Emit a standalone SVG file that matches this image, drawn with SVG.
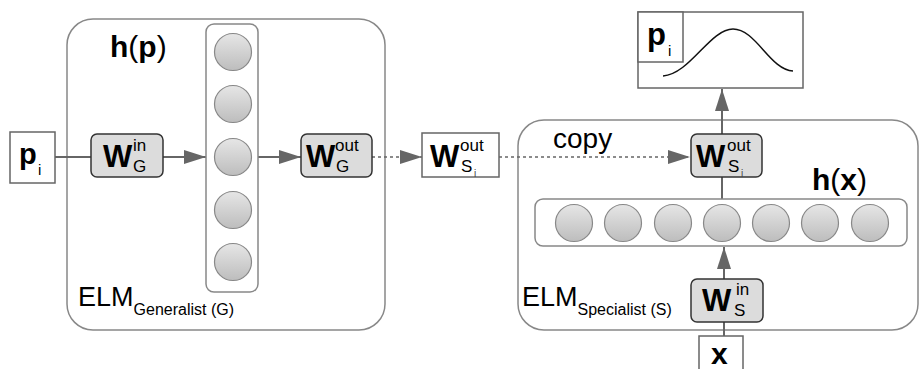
<svg xmlns="http://www.w3.org/2000/svg" width="919" height="369" viewBox="0 0 919 369">
<style>
text{font-family:"Liberation Sans",Arial,sans-serif;fill:#000}
.b{font-weight:bold}
.big{fill:#fff;stroke:#888;stroke-width:1.5}
.wbox{fill:#dcdcdc;stroke:#333;stroke-width:1.5}
.pbox{fill:#fff;stroke:#666;stroke-width:1.5}
.neu{fill:url(#g);stroke:#888;stroke-width:1.2}
.ln{stroke:#666;stroke-width:2;fill:none}
.dash{stroke:#666;stroke-width:1.5;fill:none;stroke-dasharray:3 3}
.W{font-size:31px;font-weight:bold}
.sup{font-size:17px}
.sub{font-size:17px}
.ss{font-size:10px;fill:#444}
</style>
<defs>
<linearGradient id="g" x1="0" y1="0" x2="0" y2="1">
<stop offset="0" stop-color="#e6e6e6"/>
<stop offset="1" stop-color="#bdbdbd"/>
</linearGradient>
<marker id="ah" markerUnits="userSpaceOnUse" markerWidth="22" markerHeight="14" refX="22" refY="7" orient="auto">
<path d="M0,0 L22,7 L0,14 z" fill="#666"/>
</marker>
</defs>

<g id="generalist">
<rect class="big" x="67" y="19" width="318" height="311" rx="26"/>
<text x="78" y="306" font-size="27">ELM<tspan font-size="16" y="315">Generalist (G)</tspan></text>
<text x="110" y="57" font-size="30"><tspan class="b">h</tspan>(<tspan class="b">p</tspan>)</text>
</g>

<g id="specialist">
<rect class="big" x="518" y="120" width="400" height="210" rx="26"/>
<text x="522" y="306" font-size="27">ELM<tspan font-size="16" y="315">Specialist (S)</tspan></text>
<text x="812" y="190" font-size="30"><tspan class="b">h</tspan>(<tspan class="b">x</tspan>)</text>
</g>

<g id="connectors">
<line class="ln" x1="55" y1="157" x2="91" y2="157"/>
<line class="ln" x1="163" y1="157" x2="206" y2="157" marker-end="url(#ah)"/>
<line class="ln" x1="258" y1="157" x2="301" y2="157" marker-end="url(#ah)"/>
<line class="dash" x1="372" y1="157" x2="422" y2="157" marker-end="url(#ah)"/>
<line class="dash" x1="499" y1="157" x2="690" y2="157" marker-end="url(#ah)"/>
<line class="ln" x1="722" y1="134" x2="722" y2="89" marker-end="url(#ah)"/>
<line class="ln" x1="722" y1="177" x2="722" y2="199"/>
<line class="ln" x1="724" y1="279" x2="724" y2="247" marker-end="url(#ah)"/>
<line class="ln" x1="724" y1="322" x2="724" y2="336"/>
</g>

<g id="p_in">
<rect class="pbox" x="10" y="132" width="45" height="51"/>
<text x="19" y="164" font-size="29" class="b">p</text>
<text x="38" y="175" font-size="15">i</text>
</g>

<g id="W_G_in">
<rect class="wbox" x="91" y="134" width="72" height="43" rx="6"/>
<text x="103" y="167" class="W">W</text>
<text x="133" y="151" class="sup">in</text>
<text x="133" y="172" class="sub">G</text>
</g>

<g id="hidden_p">
<rect class="big" x="206" y="24" width="52" height="268" rx="8"/>
<circle class="neu" cx="233" cy="52" r="18.5"/>
<circle class="neu" cx="233" cy="104" r="18.5"/>
<circle class="neu" cx="233" cy="157" r="18.5"/>
<circle class="neu" cx="233" cy="210" r="18.5"/>
<circle class="neu" cx="233" cy="262" r="18.5"/>
</g>

<g id="W_G_out">
<rect class="wbox" x="301" y="134" width="71" height="43" rx="6"/>
<text x="306" y="167" class="W">W</text>
<text x="335" y="151" class="sup">out</text>
<text x="336" y="172" class="sub">G</text>
</g>

<g id="W_Si_out_copy">
<rect class="pbox" x="422" y="133" width="77" height="44"/>
<text x="430" y="167" class="W">W</text>
<text x="460" y="151" class="sup">out</text>
<text x="461" y="172" class="sub">S</text>
<text x="474" y="177" class="ss">i</text>
<text x="553" y="148" font-size="28">copy</text>
</g>

<g id="W_Si_out">
<rect class="wbox" x="691" y="134" width="71" height="43" rx="6"/>
<text x="696" y="167" class="W">W</text>
<text x="727" y="151" class="sup">out</text>
<text x="728" y="172" class="sub">S</text>
<text x="741" y="177" class="ss">i</text>
</g>

<g id="hidden_x">
<rect class="big" x="535" y="199" width="372" height="47" rx="8"/>
<circle class="neu" cx="574" cy="223" r="18.5"/>
<circle class="neu" cx="623" cy="223" r="18.5"/>
<circle class="neu" cx="673" cy="223" r="18.5"/>
<circle class="neu" cx="722" cy="223" r="18.5"/>
<circle class="neu" cx="771" cy="223" r="18.5"/>
<circle class="neu" cx="820" cy="223" r="18.5"/>
<circle class="neu" cx="870" cy="223" r="18.5"/>
</g>

<g id="W_S_in">
<rect class="wbox" x="691" y="279" width="72" height="43" rx="6"/>
<text x="702" y="311" class="W">W</text>
<text x="736" y="295" class="sup">in</text>
<text x="734" y="316" class="sub">S</text>
</g>

<g id="x_in">
<rect class="pbox" x="699" y="336" width="44" height="40"/>
<text x="711" y="364" font-size="30" class="b">x</text>
</g>

<g id="output">
<rect class="pbox" x="638" y="12" width="165" height="76"/>
<rect class="pbox" x="638" y="12" width="45" height="50"/>
<text x="647" y="45" font-size="31" class="b">p</text>
<text x="668" y="56" font-size="15">i</text>
<path d="M663,76 C690,74 710,29 733,29 C756,29 770,70 793,71" fill="none" stroke="#111" stroke-width="1.5"/>
</g>
</svg>
